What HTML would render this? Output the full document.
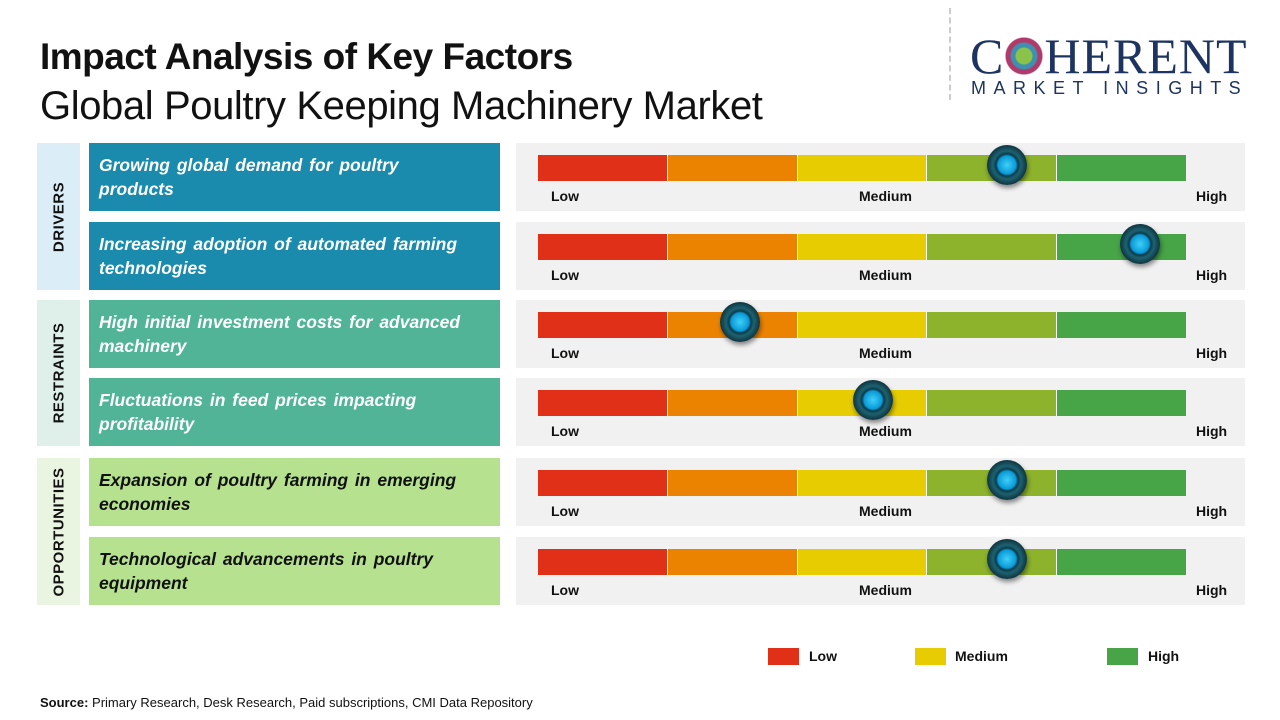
<!DOCTYPE html>
<html><head><meta charset="utf-8"><style>
*{margin:0;padding:0;box-sizing:border-box}
body{width:1280px;height:720px;background:#fff;position:relative;overflow:hidden;font-family:"Liberation Sans",sans-serif}
.a{position:absolute}
.t1{left:40px;top:36px;font-size:37px;font-weight:bold;color:#111;letter-spacing:-0.5px}
.t2{left:40px;top:84px;font-size:40px;color:#111;letter-spacing:-0.4px}
.cat{left:37px;width:43px}
.cat span{position:absolute;left:50%;top:50%;transform:translate(-50%,-50%) rotate(-90deg);font-weight:bold;font-size:15px;color:#111;white-space:nowrap;letter-spacing:0.5px}
.it{left:89px;width:411px;height:68px;padding:10px 10px 0 10px;font-size:17.5px;font-weight:bold;font-style:italic;line-height:24px;color:#fff;word-spacing:2px;white-space:nowrap}
.pn{left:516px;width:729px;height:68px;background:#f1f1f1}
.bar{position:absolute;left:22px;top:12px;height:26px;width:648px;display:flex}
.bar div{flex:1;border-right:1.5px solid #fafafa}
.bar div:last-child{border-right:none}
.lb{position:absolute;top:45px;font-size:14px;font-weight:bold;color:#111}
.k{position:absolute;top:2px;width:40px;height:40px;margin-left:-20px;border-radius:50%;
background:radial-gradient(circle at 50% 50%,#3fd0f8 0,#0a9ad8 9px,#0b3b4a 11px,#1e6270 14px,#0e3440 20px);box-shadow:1px 3px 5px rgba(0,0,0,.45)}
.lg{top:648px;width:31px;height:17px}
.lt{top:648px;font-size:14px;font-weight:bold;color:#111}
</style></head><body>
<div class="a t1">Impact Analysis of Key Factors</div>
<div class="a t2">Global Poultry Keeping Machinery Market</div>
<div class="a" style="left:949px;top:8px;height:92px;border-left:2px dashed #ccc"></div>
<div class="a" style="left:970px;top:28px;font-family:'Liberation Serif',serif;font-size:50px;color:#1d3461;letter-spacing:1px;line-height:56px">C<span style="display:inline-block;width:40px;height:38px;vertical-align:-2px;background:radial-gradient(circle,#8bc34a 0 8px,#3f8fb0 9px 13px,#b03a6a 14px 18px,transparent 19px)"></span>HERENT</div>
<div class="a" style="left:971px;top:78px;font-size:18px;color:#1d3461;letter-spacing:7.5px">MARKET INSIGHTS</div>

<div class="a cat" style="top:143px;height:147px;background:#dbeef8"><span>DRIVERS</span></div>
<div class="a cat" style="top:300px;height:146px;background:#dff0ea"><span>RESTRAINTS</span></div>
<div class="a cat" style="top:458px;height:147px;background:#e9f5e1"><span>OPPORTUNITIES</span></div>

<div class="a it" style="top:143px;background:#1a8aad">Growing global demand for poultry<br>products</div>
<div class="a it" style="top:222px;background:#1a8aad">Increasing adoption of automated farming<br>technologies</div>
<div class="a it" style="top:300px;background:#52b496">High initial investment costs for advanced<br>machinery</div>
<div class="a it" style="top:378px;background:#52b496">Fluctuations in feed prices impacting<br>profitability</div>
<div class="a it" style="top:458px;background:#b6e290;color:#111">Expansion of poultry farming in emerging<br>economies</div>
<div class="a it" style="top:537px;background:#b6e290;color:#111">Technological advancements in poultry<br>equipment</div>

<div class="a pn" style="top:143px"><div class="bar"><div style="background:#e03018"></div><div style="background:#ec8300"></div><div style="background:#e6cc00"></div><div style="background:#8db22b"></div><div style="background:#47a447"></div></div><span class="lb" style="left:35px">Low</span><span class="lb" style="left:343px">Medium</span><span class="lb" style="left:680px">High</span><div class="k" style="left:491px"></div></div>
<div class="a pn" style="top:222px"><div class="bar"><div style="background:#e03018"></div><div style="background:#ec8300"></div><div style="background:#e6cc00"></div><div style="background:#8db22b"></div><div style="background:#47a447"></div></div><span class="lb" style="left:35px">Low</span><span class="lb" style="left:343px">Medium</span><span class="lb" style="left:680px">High</span><div class="k" style="left:624px"></div></div>
<div class="a pn" style="top:300px"><div class="bar"><div style="background:#e03018"></div><div style="background:#ec8300"></div><div style="background:#e6cc00"></div><div style="background:#8db22b"></div><div style="background:#47a447"></div></div><span class="lb" style="left:35px">Low</span><span class="lb" style="left:343px">Medium</span><span class="lb" style="left:680px">High</span><div class="k" style="left:224px"></div></div>
<div class="a pn" style="top:378px"><div class="bar"><div style="background:#e03018"></div><div style="background:#ec8300"></div><div style="background:#e6cc00"></div><div style="background:#8db22b"></div><div style="background:#47a447"></div></div><span class="lb" style="left:35px">Low</span><span class="lb" style="left:343px">Medium</span><span class="lb" style="left:680px">High</span><div class="k" style="left:357px"></div></div>
<div class="a pn" style="top:458px"><div class="bar"><div style="background:#e03018"></div><div style="background:#ec8300"></div><div style="background:#e6cc00"></div><div style="background:#8db22b"></div><div style="background:#47a447"></div></div><span class="lb" style="left:35px">Low</span><span class="lb" style="left:343px">Medium</span><span class="lb" style="left:680px">High</span><div class="k" style="left:491px"></div></div>
<div class="a pn" style="top:537px"><div class="bar"><div style="background:#e03018"></div><div style="background:#ec8300"></div><div style="background:#e6cc00"></div><div style="background:#8db22b"></div><div style="background:#47a447"></div></div><span class="lb" style="left:35px">Low</span><span class="lb" style="left:343px">Medium</span><span class="lb" style="left:680px">High</span><div class="k" style="left:491px"></div></div>

<div class="a lg" style="left:768px;background:#e03018"></div><div class="a lt" style="left:809px">Low</div>
<div class="a lg" style="left:915px;background:#e6cc00"></div><div class="a lt" style="left:955px">Medium</div>
<div class="a lg" style="left:1107px;background:#47a447"></div><div class="a lt" style="left:1148px">High</div>

<div class="a" style="left:40px;top:695px;font-size:13px;color:#111"><b>Source:</b> Primary Research, Desk Research, Paid subscriptions, CMI Data Repository</div>
</body></html>
